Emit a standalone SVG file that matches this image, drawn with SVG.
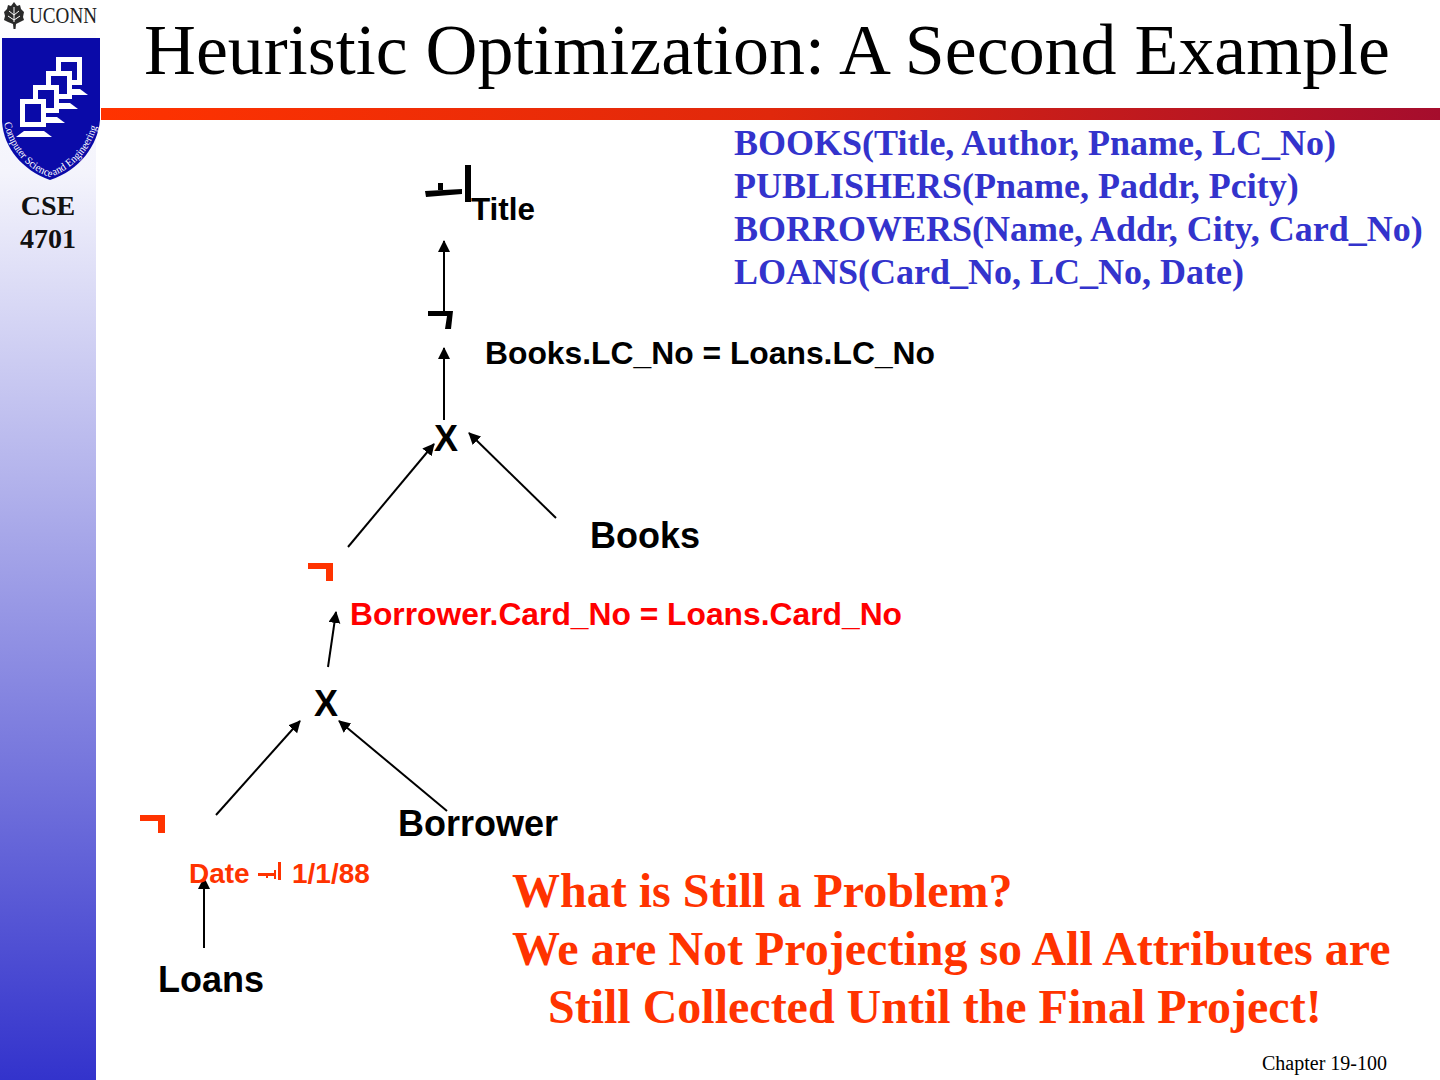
<svg xmlns="http://www.w3.org/2000/svg" width="1440" height="1080" viewBox="0 0 1440 1080">
<style>
.ser{font-family:"Liberation Serif",serif}
.san{font-family:"Liberation Sans",Arial,sans-serif;font-weight:bold}
.b{font-family:"Liberation Serif",serif;font-weight:bold}
.line{stroke:#000;stroke-width:2;fill:none;marker-end:url(#ah)}
.blue{fill:#3333cc;font-size:36px}
.prob{fill:#ff3300;font-size:48px}
</style>
<defs>
<marker id="ah" markerUnits="userSpaceOnUse" markerWidth="12" markerHeight="14" refX="11" refY="6" orient="auto"><path d="M0 0L12 6L0 12Z" fill="#000"/></marker>
<linearGradient id="side" x1="0" y1="0" x2="0" y2="1"><stop offset="0" stop-color="#fff"/><stop offset="0.16" stop-color="#f4f4fc"/><stop offset="1" stop-color="#3333cc"/></linearGradient>
<linearGradient id="bar" x1="0" y1="0" x2="1" y2="0"><stop offset="0" stop-color="#ff3300"/><stop offset="0.5" stop-color="#e0280c"/><stop offset="1" stop-color="#a50d2d"/></linearGradient>
<path id="arc" d="M4 123C10 150 28 170 50 177C72 170 92 150 98 122"/>
<g id="mon"><path d="M0 0H26V28H0Z" fill="#fff"/><path d="M5 5H21V23H5Z" fill="#0a0aa8"/><path d="M4 32H24L32 38H-4Z" fill="#fff"/></g>
</defs>
<g id="sidebar">
<rect x="0" y="0" width="96" height="1080" fill="url(#side)"/>
</g>
<g id="logo">
<text x="29" y="23" class="ser" font-size="23" fill="#222" textLength="68" lengthAdjust="spacingAndGlyphs">UCONN</text>
<path d="M14 2L17 6L20 5L21 9L24 12L23 17L24 20L20 22L16 24L15.500 29H13.500L13 24L8 22L4 20L5 16L4 12L7 9L8 5L11 6Z" fill="#2a2a2a"/>
<path d="M14 7V22M9 11L14 15L19 11M8 16L14 20L20 16" stroke="#fff" stroke-width="1" fill="none"/>
<path d="M2 38H100V120C98 145 80 170 50 180C22 170 4 148 2 122Z" fill="#0a0aa8"/>
<use href="#mon" x="56" y="57"/><use href="#mon" x="46" y="71"/><use href="#mon" x="33" y="85"/><use href="#mon" x="20" y="99"/>
<text class="ser" font-size="11" fill="#fff"><textPath href="#arc" textLength="146" lengthAdjust="spacingAndGlyphs">Computer Science and Engineering</textPath></text>
</g>
<rect id="redbar" x="101" y="108" width="1339" height="12" fill="url(#bar)"/>
<text id="title" x="144" y="74" class="ser" font-size="71" fill="#000" textLength="1246" lengthAdjust="spacingAndGlyphs">Heuristic Optimization: A Second Example</text>
<g id="course" class="b" font-size="28" fill="#111" text-anchor="middle"><text x="48" y="215">CSE</text><text x="48" y="248">4701</text></g>
<text id="chapter" x="1262" y="1070" class="ser" font-size="20" fill="#000">Chapter 19-100</text>
<g id="schemas" class="b">
<text x="734" y="155" class="blue">BOOKS(Title, Author, Pname, LC_No)</text>
<text x="734" y="198" class="blue">PUBLISHERS(Pname, Paddr, Pcity)</text>
<text x="734" y="241" class="blue">BORROWERS(Name, Addr, City, Card_No)</text>
<text x="734" y="284" class="blue">LOANS(Card_No, LC_No, Date)</text>
</g>
<g id="connectors">
<path class="line" d="M444 312V241"/>
<path class="line" d="M444 420V348"/>
<path class="line" d="M348 547L434 444"/>
<path class="line" d="M556 518L469 433"/>
<path class="line" d="M328 667L336 612"/>
<path class="line" d="M216 815L300 721"/>
<path class="line" d="M447 811L339 721"/>
<path class="line" d="M204 948V878"/>
</g>
<g id="node-project">
<path d="M425 191L462 189V194L426 197ZM438 183H443V190H438ZM465 165H471V202H465Z" fill="#000"/>
<text x="471" y="220" class="san" font-size="32" fill="#000" textLength="64" lengthAdjust="spacingAndGlyphs">Title</text>
</g>
<g id="node-select-books">
<path d="M428 311H453L451 329H445L447 316H428Z" fill="#000"/>
<text x="485" y="364" class="san" font-size="32" fill="#000" textLength="450" lengthAdjust="spacingAndGlyphs">Books.LC_No = Loans.LC_No</text>
</g>
<g id="node-cross-1"><text x="434" y="451" class="san" font-size="36" fill="#000">X</text></g>
<g id="node-books"><text x="590" y="548" class="san" font-size="36" fill="#000">Books</text></g>
<g id="node-select-borrower">
<path d="M308 563H333V581H326V569H308Z" fill="#ff3300"/>
<text x="350" y="625" class="san" font-size="32" fill="#ff0000" textLength="552" lengthAdjust="spacingAndGlyphs">Borrower.Card_No = Loans.Card_No</text>
</g>
<g id="node-cross-2"><text x="314" y="716" class="san" font-size="36" fill="#000">X</text></g>
<g id="node-borrower"><text x="398" y="836" class="san" font-size="36" fill="#000">Borrower</text></g>
<g id="node-select-loans">
<path d="M140 815H165V833H158V821H140Z" fill="#ff3300"/>
<text x="189" y="883" class="san" font-size="28" fill="#ff3300">Date</text>
<path d="M258 873H274V870H276V879H274V876H268V878H266V876H258ZM278 862H281V880H278Z" fill="#ff3300"/>
<text x="292" y="883" class="san" font-size="28" fill="#ff3300">1/1/88</text>
</g>
<g id="node-loans"><text x="158" y="992" class="san" font-size="36" fill="#000">Loans</text></g>
<g id="note" class="b">
<text x="512" y="907" class="prob">What is Still a Problem?</text>
<text x="512" y="965" class="prob">We are Not Projecting so All Attributes are</text>
<text x="548" y="1023" class="prob">Still Collected Until the Final Project!</text>
</g>
</svg>
